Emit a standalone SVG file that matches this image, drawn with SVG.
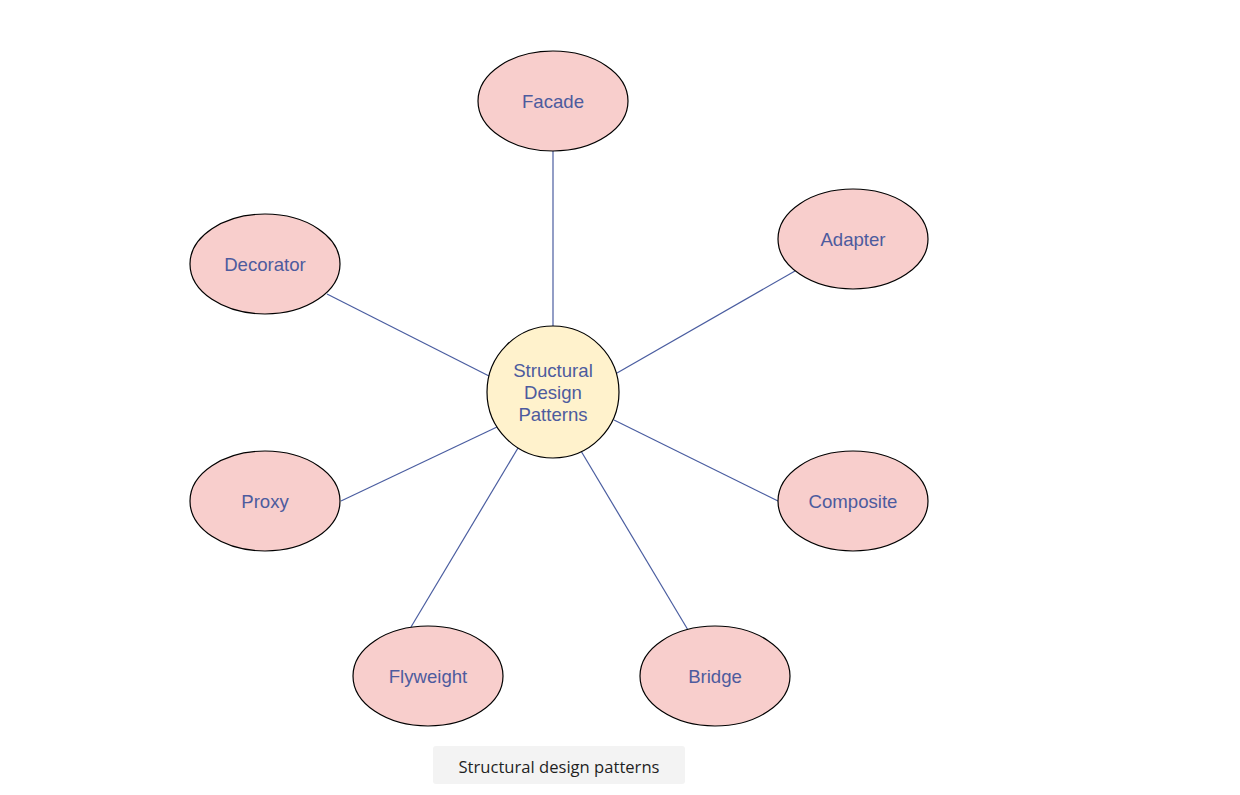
<svg xmlns="http://www.w3.org/2000/svg" width="1240" height="795" viewBox="0 0 1240 795">
<style>
.e{fill:#f8cecc;stroke:#000;stroke-width:1.2}
.c{fill:#fff2cc;stroke:#000;stroke-width:1.2}
.t{font-family:"Liberation Sans",Arial,sans-serif;font-size:18.6px;fill:#4d5b9e;text-anchor:middle;dominant-baseline:central}
.l{stroke:#4a5da0;stroke-width:1.2;fill:none}
.cap{font-family:"Open Sans",Lato,sans-serif;font-size:16.6px;fill:#1f1f1f;text-anchor:middle;dominant-baseline:central}
</style>
<rect width="1240" height="795" fill="#fff"/>
<g id="connectors">
<line class="l" x1="553" y1="151" x2="553" y2="326"/>
<line class="l" x1="795" y1="271" x2="617" y2="373"/>
<line class="l" x1="327" y1="294" x2="489" y2="376"/>
<line class="l" x1="341" y1="501" x2="497" y2="427"/>
<line class="l" x1="778" y1="501" x2="614" y2="420"/>
<line class="l" x1="411" y1="627" x2="518" y2="448"/>
<line class="l" x1="688" y1="630" x2="581" y2="451"/>
</g>
<g id="center"><circle class="c" cx="553" cy="392" r="66"/>
<text class="t"><tspan x="553" y="370">Structural</tspan><tspan x="553" y="392">Design</tspan><tspan x="553" y="414">Patterns</tspan></text></g>
<g id="facade"><ellipse class="e" cx="553" cy="101" rx="75" ry="50"/><text class="t" x="553" y="101">Facade</text></g>
<g id="adapter"><ellipse class="e" cx="853" cy="239" rx="75" ry="50"/><text class="t" x="853" y="239">Adapter</text></g>
<g id="decorator"><ellipse class="e" cx="265" cy="264" rx="75" ry="50"/><text class="t" x="265" y="264">Decorator</text></g>
<g id="proxy"><ellipse class="e" cx="265" cy="501" rx="75" ry="50"/><text class="t" x="265" y="501">Proxy</text></g>
<g id="composite"><ellipse class="e" cx="853" cy="501" rx="75" ry="50"/><text class="t" x="853" y="501">Composite</text></g>
<g id="flyweight"><ellipse class="e" cx="428" cy="676" rx="75" ry="50"/><text class="t" x="428" y="676">Flyweight</text></g>
<g id="bridge"><ellipse class="e" cx="715" cy="676" rx="75" ry="50"/><text class="t" x="715" y="676">Bridge</text></g>
<g id="caption"><rect x="433" y="746" width="252" height="38" rx="3" fill="#f3f3f3"/><text class="cap" x="559" y="766">Structural design patterns</text></g>
</svg>
